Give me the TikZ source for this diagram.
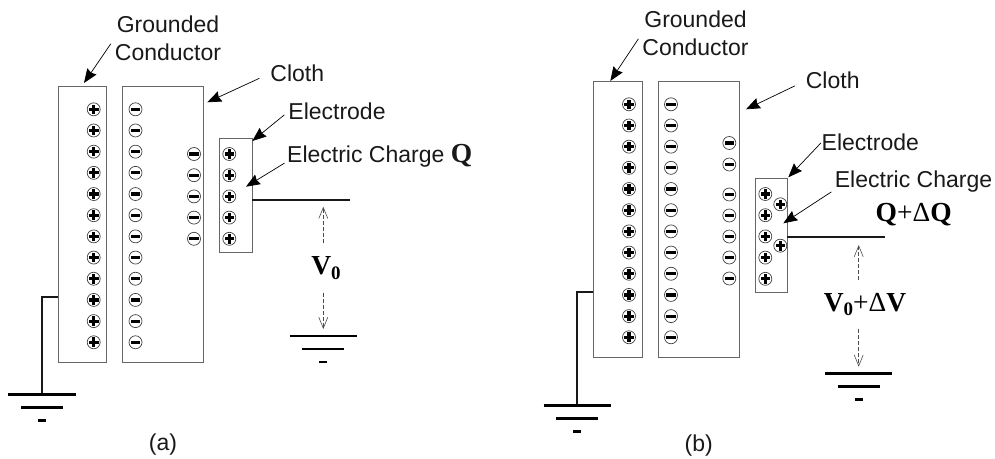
\documentclass[tikz,border=0pt]{standalone}
\usepackage{fontspec}
\usepackage{tikz}
\usetikzlibrary{arrows.meta,calc}
\setmainfont{Liberation Sans}
\newfontfamily\symbfont{Liberation Serif}
\newcommand{\qsym}{\symbfont\bfseries}
\newcommand{\deltasym}{{\symbfont\mdseries +Δ}}
\newcommand{\subzero}{\raisebox{-4.5pt}{\fontsize{19}{19}\selectfont 0}}
\begin{document}
\begin{tikzpicture}[
  x=1pt, y=-1pt,
  box/.style={rectangle, draw=black!60, line width=0.9pt, inner sep=0pt, outer sep=0pt},
  lbl/.style={inner sep=0pt, align=center, text=black!90, font=\fontsize{23}{27.7}\selectfont},
  sym/.style={inner sep=0pt, font=\fontsize{27.5}{30}\selectfont\qsym},
  arr/.style={-{Stealth[length=14pt,width=11pt,inset=1.5pt]}, line width=0.7pt},
  dasharr/.style={-{Straight Barb[length=11pt,width=9pt]}, line width=0.6pt, black!70, dash pattern=on 4pt off 2pt},
  wire/.style={line width=1.8pt, black!90},
  bar/.style={line width=2.8pt, black},
  chg/.style={circle, draw=black!75, line width=0.7pt, minimum size=13pt, inner sep=0pt},
  hbar/.style={rectangle, fill=black, inner sep=0pt, minimum width=9.6pt, minimum height=3.2pt},
  vbar/.style={rectangle, fill=black, inner sep=0pt, minimum width=3.2pt, minimum height=9.6pt},
  poschg/.style={chg, append after command={
    (\tikzlastnode.center) node[hbar] {} node[vbar] {}}},
  negchg/.style={chg, append after command={
    (\tikzlastnode.center) node[hbar] {}}},
  earth/.pic={
    \draw[bar] (-33.6,0) -- (33.6,0);
    \draw[bar] (-21,13) -- (21,13);
    \draw[bar] (-4,26) -- (4,26);}
]
\useasboundingbox (0,0) rectangle (995,458);

% panel (a)
\node[box, minimum width=48.5pt, minimum height=276pt] (conda) at (82.3,224.2) {};
\node[box, minimum width=81pt, minimum height=276pt] (clotha) at (163,224.2) {};
\node[box, minimum width=32.5pt, minimum height=113.7pt] (eleca) at (235.8,195.2) {};

\foreach \i in {0,...,11} {
  \node[poschg] (pa\i) at (93.7,{109.3+21.18*\i}) {};
  \node[negchg] (na\i) at (135.5,{109.3+21.18*\i}) {};
}
\foreach \i in {0,...,4} {
  \node[negchg] (ma\i) at (194,{154+21.2*\i}) {};
  \node[poschg] (qa\i) at (229.3,{154+21.2*\i}) {};
}

\node[lbl] (gca) at (168,38) {Grounded\\Conductor};
\node[lbl] (cla) at (297.3,73.3) {Cloth};
\node[lbl] (ela) at (337,111.7) {Electrode};
\node[lbl, anchor=base west] (cqa) at (287,162.3) {Electric Charge {\fontsize{27.5}{30}\selectfont\qsym Q}};
\node[lbl] at (163,445) (capa) {(a)};

\draw[arr, shorten <=7pt] (gca.west) -- (84,83);
\draw[arr, shorten <=12pt] (cla.west) -- (207.3,102.3);
\draw[arr, shorten <=5pt] (ela.west) -- (252.3,141);
\draw[arr, shorten <=3pt] ([yshift=-6pt]cqa.west) -- (246,186.7);

\coordinate (leada) at (350,200);
\coordinate (tapa) at (58,297.3);
\coordinate (gnda) at (42,394.3);
\coordinate (gndva) at (323.3,336);
\coordinate (topa) at (323.3,206.7);
\coordinate (lowa) at (323.3,329);
\draw[wire] (eleca.east |- leada) -- (leada);
\draw[wire] (tapa) -| (gnda);
\pic at (gnda) {earth};
\pic at (gndva) {earth};

\node[sym, minimum height=50pt] (va) at (326,268) {V\subzero};
\draw[dasharr] (va.north -| topa) -- (topa);
\draw[dasharr] (va.south -| lowa) -- (lowa);

% panel (b)
\node[box, minimum width=49pt, minimum height=276pt] (condb) at (617.8,219.2) {};
\node[box, minimum width=81pt, minimum height=276pt] (clothb) at (698.8,219.2) {};
\node[box, minimum width=32pt, minimum height=113.7pt] (elecb) at (771.3,235.2) {};

\foreach \i in {0,...,11} {
  \node[poschg] (pb\i) at (629,{104.3+21.18*\i}) {};
  \node[negchg] (nb\i) at (671,{104.3+21.18*\i}) {};
}
\foreach \i/\yy in {0/143,1/164.5,2/194.5,3/215.5,4/236.5,5/257.5,6/278.5} {
  \node[negchg] (mb\i) at (729.3,\yy) {};
}
\foreach \i in {0,...,4} {
  \node[poschg] (qb\i) at (765.3,{194+21.2*\i}) {};
}
\node[poschg] (xb0) at (780.3,204.3) {};
\node[poschg] (xb1) at (780.3,245.7) {};

\node[lbl] (gcb) at (695.5,33) {Grounded\\Conductor};
\node[lbl] (clb) at (832.7,80.7) {Cloth};
\node[lbl] (elb) at (870.3,142.3) {Electrode};
\node[lbl] (cqb) at (913.5,181.7) {Electric Charge};
\node[sym] (dqb) at (913.7,215) {Q\deltasym Q};
\node[lbl] (capb) at (698.7,445.5) {(b)};

\draw[arr, shorten <=7pt] (gcb.west) -- (610.3,81);
\draw[arr, shorten <=12pt] (clb.west) -- (746,109.3);
\draw[arr, shorten <=1pt] (elb.west) -- (788.3,177.3);
\draw[arr, shorten <=4pt] ([yshift=-8pt]cqb.west) -- (783.3,223.3);

\coordinate (leadb) at (885,237);
\coordinate (tapb) at (593.3,292);
\coordinate (gndb) at (577.3,405.3);
\coordinate (gndvb) at (858.7,373.3);
\coordinate (topb) at (858.7,245);
\coordinate (lowb) at (858.7,366.7);
\draw[wire] (elecb.east |- leadb) -- (leadb);
\draw[wire] (tapb) -| (gndb);
\pic at (gndb) {earth};
\pic at (gndvb) {earth};

\node[sym, minimum height=49pt] (vb) at (865,304.7) {V\subzero\deltasym V};
\draw[dasharr] (vb.north -| topb) -- (topb);
\draw[dasharr] (vb.south -| lowb) -- (lowb);
\end{tikzpicture}
\end{document}
